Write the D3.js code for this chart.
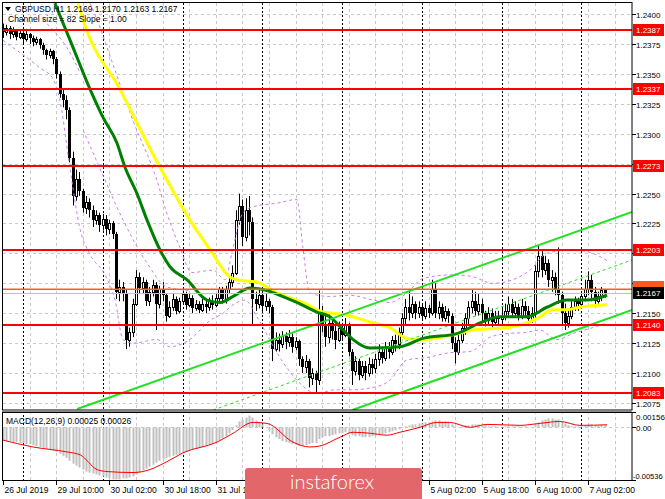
<!DOCTYPE html>
<html><head><meta charset="utf-8">
<script src="https://cdn.jsdelivr.net/npm/d3@7"></script>
<style>body{margin:0;background:#fff}svg{display:block;font-family:"Liberation Sans",Arial,sans-serif}</style>
</head><body>
<svg id="c" width="665" height="499"></svg>
<script>
// ---------------- DATA ----------------
const firstOpen = 1.2388;
const closes = [
1.2385,1.2388,1.2383,1.2386,1.2381,1.2384,1.2379,1.2383,1.2380,1.2377,
1.2379,1.2374,1.2370,1.2366,1.2369,1.2362,1.2350,1.2333,1.2328,1.2320,
1.2280,1.2248,1.2262,1.2252,1.2238,1.2243,1.2236,1.2228,1.2232,1.2224,
1.2229,1.2220,1.2225,1.2216,1.2168,1.2172,1.2166,1.2128,1.2134,1.2158,
1.2180,1.2171,1.2176,1.2160,1.2168,1.2174,1.2158,1.2170,1.2165,1.2148,
1.2155,1.2162,1.2152,1.2160,1.2166,1.2157,1.2163,1.2154,1.2158,1.2153,
1.2158,1.2155,1.2160,1.2157,1.2163,1.2170,1.2162,1.2170,1.2176,1.2184,
1.2228,1.2240,1.2214,1.2236,1.2226,1.2162,1.2158,1.2165,1.2156,1.2160,
1.2155,1.2120,1.2128,1.2124,1.2131,1.2126,1.2130,1.2122,1.2127,1.2112,
1.2105,1.2110,1.2096,1.2100,1.2094,1.2150,1.2140,1.2130,1.2142,1.2135,
1.2128,1.2138,1.2132,1.2140,1.2118,1.2102,1.2110,1.2098,1.2106,1.2100,
1.2108,1.2104,1.2112,1.2118,1.2113,1.2122,1.2118,1.2128,1.2124,1.2134,
1.2146,1.2155,1.2150,1.2158,1.2150,1.2155,1.2148,1.2154,1.2150,1.2170,
1.2150,1.2155,1.2146,1.2152,1.2148,1.2125,1.2118,1.2128,1.2138,1.2146,
1.2155,1.2160,1.2152,1.2158,1.2150,1.2144,1.2150,1.2143,1.2148,1.2145,
1.2148,1.2152,1.2158,1.2150,1.2155,1.2148,1.2156,1.2152,1.2145,1.2150,
1.2185,1.2198,1.2186,1.2192,1.2178,1.2180,1.2170,1.2165,1.2150,1.2142,
1.2148,1.2155,1.2160,1.2158,1.2164,1.2170,1.2178,1.2168,1.2160,1.2164,
1.2169,1.2167];
const highs = [
1.2392,1.2391,1.2390,1.2389,1.2387,1.2386,1.2385,1.2386,1.2384,1.2382,
1.2381,1.2380,1.2376,1.2371,1.2371,1.2370,1.2364,1.2352,1.2337,1.2332,
1.2322,1.2285,1.2270,1.2268,1.2254,1.2248,1.2246,1.2240,1.2236,1.2234,
1.2233,1.2232,1.2228,1.2227,1.2218,1.2178,1.2176,1.2170,1.2138,1.2162,
1.2186,1.2184,1.2180,1.2178,1.2172,1.2178,1.2176,1.2173,1.2176,1.2167,
1.2160,1.2166,1.2164,1.2163,1.2169,1.2168,1.2166,1.2165,1.2161,1.2160,
1.2162,1.2161,1.2163,1.2165,1.2166,1.2172,1.2172,1.2173,1.2180,1.2190,
1.2236,1.2250,1.2245,1.2246,1.2248,1.2230,1.2168,1.2170,1.2167,1.2166,
1.2162,1.2157,1.2134,1.2133,1.2135,1.2134,1.2136,1.2133,1.2130,1.2128,
1.2114,1.2115,1.2112,1.2104,1.2102,1.2169,1.2156,1.2148,1.2150,1.2146,
1.2140,1.2143,1.2142,1.2146,1.2142,1.2120,1.2114,1.2112,1.2110,1.2110,
1.2113,1.2112,1.2116,1.2124,1.2122,1.2126,1.2126,1.2131,1.2132,1.2138,
1.2150,1.2162,1.2168,1.2164,1.2160,1.2160,1.2158,1.2160,1.2157,1.2178,
1.2175,1.2160,1.2158,1.2156,1.2154,1.2150,1.2130,1.2132,1.2142,1.2150,
1.2160,1.2170,1.2168,1.2166,1.2162,1.2152,1.2155,1.2154,1.2152,1.2152,
1.2155,1.2158,1.2164,1.2162,1.2160,1.2158,1.2162,1.2160,1.2156,1.2155,
1.2190,1.2207,1.2202,1.2198,1.2195,1.2186,1.2184,1.2205,1.2168,1.2158,
1.2152,1.2160,1.2164,1.2163,1.2168,1.2178,1.2185,1.2182,1.2172,1.2168,
1.2172,1.2170];
const lows = [
1.2380,1.2382,1.2379,1.2380,1.2378,1.2379,1.2375,1.2377,1.2375,1.2373,
1.2374,1.2371,1.2366,1.2362,1.2363,1.2358,1.2346,1.2330,1.2322,1.2312,
1.2276,1.2240,1.2244,1.2248,1.2234,1.2233,1.2230,1.2222,1.2224,1.2218,
1.2219,1.2215,1.2216,1.2212,1.2162,1.2160,1.2160,1.2120,1.2122,1.2130,
1.2156,1.2166,1.2166,1.2156,1.2156,1.2164,1.2136,1.2154,1.2160,1.2143,
1.2146,1.2152,1.2149,1.2150,1.2157,1.2153,1.2155,1.2150,1.2152,1.2150,
1.2151,1.2150,1.2152,1.2153,1.2155,1.2160,1.2158,1.2158,1.2166,1.2172,
1.2182,1.2224,1.2206,1.2210,1.2215,1.2140,1.2152,1.2154,1.2150,1.2152,
1.2150,1.2110,1.2118,1.2118,1.2121,1.2120,1.2122,1.2117,1.2119,1.2106,
1.2100,1.2100,1.2088,1.2090,1.2083,1.2090,1.2134,1.2122,1.2125,1.2128,
1.2120,1.2126,1.2127,1.2130,1.2114,1.2090,1.2098,1.2094,1.2096,1.2094,
1.2097,1.2099,1.2100,1.2106,1.2108,1.2110,1.2112,1.2115,1.2118,1.2120,
1.2130,1.2140,1.2144,1.2146,1.2145,1.2146,1.2144,1.2145,1.2146,1.2148,
1.2146,1.2145,1.2143,1.2143,1.2142,1.2120,1.2108,1.2115,1.2125,1.2132,
1.2140,1.2150,1.2148,1.2148,1.2143,1.2139,1.2140,1.2138,1.2140,1.2140,
1.2140,1.2144,1.2148,1.2146,1.2147,1.2144,1.2145,1.2146,1.2140,1.2142,
1.2145,1.2180,1.2180,1.2182,1.2172,1.2168,1.2165,1.2158,1.2140,1.2136,
1.2138,1.2145,1.2152,1.2152,1.2155,1.2160,1.2165,1.2160,1.2155,1.2158,
1.2160,1.2163];

// moving averages, read at sample bars
const ma30Bars = [15.6,20.2,26.2,30,34.3,36.7,40.3,43.3,47.2,50.2,55.3,61.4,65.3,69.2,74.3,79.4,83.3,88.4,94.4,98.3,102.3,105.3,110.4,119.4,126.3,136.5,143.5,149.5,157.6,163.6,169.6,175.6,181.7];
const ma30Vals = [1.2409,1.2378,1.2337,1.2314,1.2292,1.2272,1.2250,1.2228,1.2203,1.2189,1.2178,1.2161,1.2159,1.2164,1.2171,1.2169,1.2165,1.2159,1.2151,1.2147,1.2136,1.2128,1.2121,1.2122,1.2129,1.2133,1.2142,1.2147,1.2147,1.2155,1.2161,1.2161,1.2165];
const ma50Bars = [22.6,24.1,35.2,47.2,56.2,62.3,68.3,70.4,76.4,82.4,90.2,96.2,102.3,111.3,116.4,121.5,126.3,135.3,141.4,151.6,157.6,161.5,165.4,169.6,173.5,181.7];
const ma50Vals = [1.2409,1.2395,1.2337,1.2272,1.2228,1.2203,1.2180,1.2178,1.2176,1.2167,1.2159,1.2151,1.2149,1.2142,1.2138,1.2129,1.2128,1.2132,1.2136,1.2138,1.2142,1.2147,1.2153,1.2153,1.2155,1.2157];
// band lines (read at sample bars)
const bbUpBars = [26.2,28.3,33.7,39.1,46.3,49.0,53.2,56.8,63.2,66.8,69.2,72.2,75.2,82.4,88.4,90.2,92.3,98.3,104.4,111.3,116.4,121.5,126.3,134.4,140.5,147.4,153.4,158.5,163.6,171.4,177.4,181.7];
const bbUpVals = [1.2409,1.2395,1.2353,1.2311,1.2261,1.2236,1.2205,1.2184,1.2186,1.2178,1.2205,1.2234,1.2239,1.2242,1.2245,1.2205,1.2167,1.2164,1.2165,1.2161,1.2159,1.2167,1.2179,1.2182,1.2181,1.2175,1.2178,1.2186,1.2200,1.2203,1.2200,1.2194];
const bbLoBars = [0,11.1,15.0,17.1,20.2,23.2,26.2,30.7,33.7,36.1,39.1,46.3,50.2,56.2,62.3,66.2,69.2,72.8,76.4,82.4,88.4,94.4,99.8,104.4,111.3,116.4,121.5,127.5,134.4,140.5,146.5,151.6,157.6,161.5,166.6,171.4,177.4,181.7];
const bbLoVals = [1.2378,1.2355,1.2346,1.2328,1.2270,1.2220,1.2199,1.2182,1.2161,1.2128,1.2125,1.2128,1.2122,1.2128,1.2144,1.2150,1.2157,1.2161,1.2147,1.2117,1.2094,1.2083,1.2086,1.2086,1.2088,1.2094,1.2111,1.2113,1.2117,1.2118,1.2130,1.2133,1.2134,1.2136,1.2128,1.2133,1.2138,1.2142];
const band2aBars = [12.0,15.6,19.2,23.2];
const band2aVals = [1.2395,1.2385,1.2372,1.2351];
const band2bBars = [24.1,30.1,36.1,43.3,49.3,56.2];
const band2bVals = [1.2303,1.2265,1.2228,1.2192,1.2172,1.2169];
// regression channel (bar, price) endpoints
const chanUpper = [[22.3,1.20700],[189.2,1.22346]];
const chanMiddle = [[63.2,1.20691],[189.2,1.21945]];
const chanLower = [[105.1,1.20691],[189.2,1.21527]];
// levels
const redLevels = [1.2387,1.2337,1.2273,1.2203,1.2140,1.2083];
const orangeLevel = 1.2170;
const bidLevel = 1.2167;
const priceTicks = [1.2400,1.2375,1.2350,1.2325,1.2300,1.2275,1.2250,1.2225,1.2200,1.2175,1.2150,1.2125,1.2100,1.2075];
const hiddenTicks = [1.2275,1.2200,1.2175];   // labels covered by level tags
const timeTickBars = [0,16,32,48,64,80,96,112,128,144,160,176];
const timeTickLabels = ["26 Jul 2019","29 Jul 10:00","30 Jul 02:00","30 Jul 18:00","31 Jul 10:00","1 Aug 02:00","1 Aug 18:00","2 Aug 10:00","5 Aug 02:00","5 Aug 18:00","6 Aug 10:00","7 Aug 02:00"];
const coveredTimeLabels = [80,96,112];  // under the logo
const daySepBars = [6,30,54,78,102,126,150,174];
// MACD
const macdHist = [
-0.0013,-0.0014,-0.0014,-0.0015,-0.0015,-0.0016,-0.0016,-0.0017,-0.0017,-0.0018,
-0.0019,-0.0020,-0.0021,-0.0022,-0.0023,-0.0024,-0.0025,-0.0027,-0.0029,-0.0031,
-0.0034,-0.0037,-0.0039,-0.0041,-0.0043,-0.0045,-0.0046,-0.0047,-0.0048,-0.0049,
-0.0050,-0.0051,-0.0052,-0.0053,-0.0053,-0.0053,-0.0052,-0.0052,-0.0051,-0.0050,
-0.0048,-0.0046,-0.0044,-0.0042,-0.0040,-0.0038,-0.0036,-0.0034,-0.0032,-0.0031,
-0.0030,-0.0029,-0.0028,-0.0027,-0.0026,-0.0025,-0.0024,-0.0023,-0.0022,-0.0021,
-0.0020,-0.0019,-0.0018,-0.0017,-0.0015,-0.0013,-0.0011,-0.0009,-0.0006,-0.0003,
0.0002,0.0006,0.0008,0.0010,0.0012,0.0010,0.0007,0.0005,0.0003,0.0000,
-0.0003,-0.0007,-0.0010,-0.0012,-0.0014,-0.0015,-0.0016,-0.0017,-0.0018,-0.0019,
-0.0019,-0.0018,-0.0017,-0.0016,-0.0016,-0.0012,-0.0010,-0.0009,-0.0009,-0.0008,
-0.0007,-0.0006,-0.0006,-0.0005,-0.0006,-0.0008,-0.0009,-0.0009,-0.0010,-0.0010,
-0.0010,-0.0009,-0.0009,-0.0008,-0.0007,-0.0006,-0.0005,-0.0004,-0.0003,-0.0002,
0.0000,0.0001,0.0002,0.0003,0.0003,0.0004,0.0004,0.0005,0.0005,0.0006,
0.0007,0.0007,0.0006,0.0006,0.0005,0.0003,0.0001,0.0000,0.0001,0.0002,
0.0002,0.0003,0.0003,0.0003,0.0002,0.0002,0.0001,0.0001,0.0001,0.0000,
0.0000,0.0001,0.0001,0.0001,0.0001,0.0001,0.0001,0.0001,0.0000,0.0000,
0.0003,0.0005,0.0007,0.0008,0.0009,0.0009,0.0008,0.0008,0.0006,0.0004,
0.0002,0.0001,0.0001,0.0001,0.0001,0.0002,0.0003,0.0003,0.0002,0.0002,
0.00025,0.00025];
const sigBars = [0,9,19.2,23.2,28.3,31.3,39.1,42.1,49.3,54.1,64.4,69.2,75.2,79.4,87.2,92.3,95.3,101.4,105.3,110.4,115.5,119.4,125.4,130.5,134.4,140.5,145.6,155.5,161.5,167.5,173.5,181.7];
const sigVals = [-0.0013,-0.0020,-0.0025,-0.0028,-0.0043,-0.0045,-0.0046,-0.0045,-0.0035,-0.0026,-0.0015,-0.0006,0.0005,0.0004,-0.0015,-0.0020,-0.0019,-0.0010,-0.0005,-0.0006,-0.0008,-0.0005,0.0000,0.0005,0.0005,0.0000,0.0003,0.0002,0.0004,0.0006,0.0002,0.00026];
const macdTicks = [0.00156,0.00,-0.00536];
const macdTickLabels = ["0.00156","0.00","-0.00536"];

// ---------------- LAYOUT ----------------
const L=3, R=632, mainTop=3, mainBot=410, macdTop=412, macdBot=480;
const svg = d3.select('#c');
const x = d3.scaleLinear().domain([0,189.2]).range([3,632]);
const y = d3.scaleLinear().domain([1.2075,1.2400]).range([403,14]);
const my = d3.scaleLinear().domain([-0.00536,0.00156]).range([480,412]);
const px = v => Math.round(x(v));

const defs = svg.append('defs');
defs.append('clipPath').attr('id','cm').append('rect').attr('x',L).attr('y',mainTop).attr('width',R-L).attr('height',mainBot-mainTop);
defs.append('clipPath').attr('id','cd').append('rect').attr('x',L).attr('y',macdTop).attr('width',R-L).attr('height',macdBot-macdTop);

svg.append('rect').attr('width',665).attr('height',499).attr('fill','#fff');

const grid = svg.append('g');
priceTicks.forEach(p=>{
  grid.append('line').attr('x1',L).attr('x2',R).attr('y1',Math.round(y(p))+0.5).attr('y2',Math.round(y(p))+0.5)
   .attr('stroke','#c8c8c8').attr('stroke-dasharray','3,3');
});
grid.append('line').attr('x1',L).attr('x2',R).attr('y1',Math.round(my(0))+0.5).attr('y2',Math.round(my(0))+0.5)
   .attr('stroke','#c8c8c8').attr('stroke-dasharray','3,3');
for (let b=8;b<189;b+=8){
  grid.append('line').attr('x1',px(b)+0.5).attr('x2',px(b)+0.5).attr('y1',mainTop).attr('y2',macdBot)
   .attr('stroke','#c8c8c8').attr('stroke-dasharray','3,3');
}
daySepBars.forEach(b=>{
  grid.append('line').attr('x1',px(b)+0.5).attr('x2',px(b)+0.5).attr('y1',mainTop).attr('y2',macdBot)
   .attr('stroke','#000').attr('stroke-dasharray','2,2');
});

// ---- main panel
const gm = svg.append('g').attr('clip-path','url(#cm)');
closes.forEach((c,i)=>{
  const o = i===0?firstOpen:closes[i-1];
  const cx = px(i);
  gm.append('line').attr('x1',cx+0.5).attr('x2',cx+0.5).attr('y1',y(highs[i])).attr('y2',y(lows[i])).attr('stroke','#000');
  const top = Math.round(y(Math.max(o,c))), bot = Math.round(y(Math.min(o,c)));
  if (c>=o){
    gm.append('rect').attr('x',cx-0.5).attr('y',top+0.5).attr('width',2).attr('height',Math.max(bot-top,1))
      .attr('fill','#fff').attr('stroke','#000');
  } else {
    gm.append('rect').attr('x',cx-1).attr('y',top).attr('width',3).attr('height',Math.max(bot-top,1)).attr('fill','#000');
  }
});
const lineFn = d3.line().x(d=>x(d[0])).y(d=>y(d[1])).curve(d3.curveMonotoneX);
function band(bars, vals){
  gm.append('path').attr('d',lineFn(bars.map((b,i)=>[b,vals[i]]))).attr('fill','none')
    .attr('stroke','#c77df0').attr('stroke-dasharray','3,3');
}
band(bbUpBars,bbUpVals); band(bbLoBars,bbLoVals); band(band2aBars,band2aVals); band(band2bBars,band2bVals);
gm.append('path').attr('d',lineFn(ma50Bars.map((b,i)=>[b,ma50Vals[i]]))).attr('fill','none')
  .attr('stroke','#ffff00').attr('stroke-width',3);
gm.append('path').attr('d',lineFn(ma30Bars.map((b,i)=>[b,ma30Vals[i]]))).attr('fill','none')
  .attr('stroke','#008000').attr('stroke-width',3);
const straight = d3.line().x(d=>x(d[0])).y(d=>y(d[1]));
gm.append('path').attr('d',straight(chanUpper)).attr('stroke','#22e022').attr('stroke-width',2).attr('fill','none');
gm.append('path').attr('d',straight(chanLower)).attr('stroke','#22e022').attr('stroke-width',2).attr('fill','none');
gm.append('path').attr('d',straight(chanMiddle)).attr('stroke','#22e022').attr('stroke-width',1).attr('stroke-dasharray','3,3').attr('fill','none');
gm.append('line').attr('x1',L).attr('x2',R).attr('y1',Math.round(y(bidLevel))+0.5).attr('y2',Math.round(y(bidLevel))+0.5).attr('stroke','#c0c0c0');
gm.append('line').attr('x1',L).attr('x2',R).attr('y1',y(orangeLevel)).attr('y2',y(orangeLevel)).attr('stroke','#ff5a1e').attr('stroke-width',1.5);
redLevels.forEach(p=>{
  gm.append('line').attr('x1',L).attr('x2',R).attr('y1',Math.round(y(p))).attr('y2',Math.round(y(p))).attr('stroke','#ff0000').attr('stroke-width',2);
});

// header texts
svg.append('path').attr('d','M5,7 L11,7 L8,11 Z').attr('fill','#000');
svg.append('text').attr('x',15).attr('y',12).attr('font-size',8.5).attr('fill','#000')
  .text('GBPUSD,H1  1.2169 1.2170 1.2163 1.2167');
svg.append('text').attr('x',8).attr('y',22).attr('font-size',8.5).attr('fill','#000')
  .text('Channel size = 82 Slope = 1.00');

// ---- MACD panel
const gd = svg.append('g').attr('clip-path','url(#cd)');
macdHist.forEach((v,i)=>{
  const cx = px(i);
  const y0 = my(0), y1 = my(v);
  gd.append('rect').attr('x',cx-0.5).attr('width',2).attr('y',Math.min(y0,y1)).attr('height',Math.max(Math.abs(y1-y0),0.5)).attr('fill','#c0c0c0');
});
const sigFn = d3.line().x(d=>x(d[0])).y(d=>my(d[1])).curve(d3.curveMonotoneX);
gd.append('path').attr('d',sigFn(sigBars.map((b,i)=>[b,sigVals[i]]))).attr('fill','none').attr('stroke','#ff0000').attr('stroke-width',1);
svg.append('text').attr('x',6).attr('y',424).attr('font-size',8.5).attr('fill','#000').text('MACD(12,26,9) 0.00025 0.00026');

// frames
svg.append('rect').attr('x',2.5).attr('y',2.5).attr('width',R-2.5).attr('height',mainBot-2.5).attr('fill','none').attr('stroke','#000');
svg.append('rect').attr('x',2.5).attr('y',macdTop+0.5).attr('width',R-2.5).attr('height',macdBot-macdTop).attr('fill','none').attr('stroke','#000');
svg.append('line').attr('x1',2).attr('x2',R).attr('y1',mainBot+1.5).attr('y2',mainBot+1.5).attr('stroke','#888');

// right axis
const ax = svg.append('g').attr('font-size',8);
priceTicks.forEach(p=>{
  const yy = Math.round(y(p))+0.5;
  ax.append('line').attr('x1',R).attr('x2',R+4).attr('y1',yy).attr('y2',yy).attr('stroke','#000');
  if (!hiddenTicks.includes(p)) ax.append('text').attr('x',636).attr('y',yy+3).text(p.toFixed(4));
});
macdTicks.forEach((v,i)=>{
  const yy = i===0?417:(i===2?476:Math.round(my(v))+0.5);
  ax.append('line').attr('x1',R).attr('x2',R+4).attr('y1',Math.round(my(v))+0.5).attr('y2',Math.round(my(v))+0.5).attr('stroke','#000');
  ax.append('text').attr('x',i===2?633:636).attr('y',yy+3).attr('font-size',i===2?7.5:8).text(macdTickLabels[i]);
});
function tag(p, bg, label){
  const yy = y(p);
  ax.append('rect').attr('x',633).attr('y',Math.round(yy)-6).attr('width',31).attr('height',12).attr('fill',bg);
  if (label) ax.append('text').attr('x',636).attr('y',Math.round(yy)+3).attr('fill','#fff').text(label);
}
redLevels.forEach(p=>tag(p,'#ff0000',p.toFixed(4)));
tag(orangeLevel+0.0002,'#ff5a1e',null);
tag(bidLevel,'#000',bidLevel.toFixed(4));

// bottom axis
const bx = svg.append('g').attr('font-size',8.5);
timeTickBars.forEach((b,i)=>{
  const xx = px(b)+0.5;
  bx.append('line').attr('x1',xx).attr('x2',xx).attr('y1',macdBot).attr('y2',macdBot+5).attr('stroke','#000');
  if (!coveredTimeLabels.includes(b)) bx.append('text').attr('x',xx+1).attr('y',493).text(timeTickLabels[i]);
});

// logo
const lg = svg.append('g');
lg.append('rect').attr('x',245).attr('y',468).attr('width',177).attr('height',36).attr('rx',3).attr('fill','#e3676a');
lg.append('text').attr('x',290).attr('y',489).attr('font-family','Lato, "Open Sans", sans-serif').attr('font-weight',300)
  .attr('font-size',20).attr('fill','#fff').text('instaforex');
</script>
</body></html>
